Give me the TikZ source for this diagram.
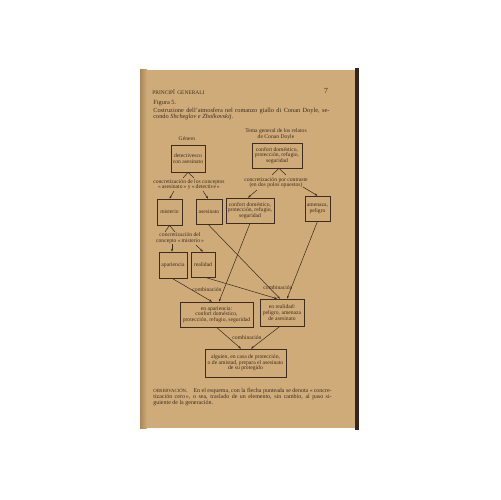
\documentclass[tikz,border=0pt]{standalone}
\usepackage{fontspec}
\setmainfont{Liberation Serif}
\usetikzlibrary{arrows.meta}
\definecolor{pagecol}{RGB}{207,171,121}
\definecolor{pageshade}{RGB}{170,135,90}
\definecolor{ink}{RGB}{62,44,30}
\definecolor{edgecol}{RGB}{50,38,30}
\begin{document}
\begin{tikzpicture}[x=0.02cm,y=-0.02cm,
  every node/.style={text=ink,font=\fontsize{3.2}{3.2}\selectfont,inner sep=0pt},
  box/.style={draw=ink,line width=0.35pt,align=center},
  lbl/.style={align=center},
  link/.style={draw=ink,line width=0.3pt},
  arr/.style={link,-{Stealth[length=1.7pt,width=1.3pt]}},
  bodytext/.style={anchor=west,font=\fontsize{3.6}{4}\selectfont},
  notetext/.style={anchor=west,font=\fontsize{3.4}{3.8}\selectfont}]
\useasboundingbox (0,0) rectangle (500,500);
\fill[white] (0,0) rectangle (500,500);
% page
\fill[pagecol] (140,70) rectangle (356,428);
\shade[left color=pageshade,right color=pagecol] (140,70) rectangle (147,428);
\fill[edgecol] (355,68) rectangle (359,430);

% header and caption
\node[bodytext,font=\fontsize{3.1}{4}\selectfont] (hdr) at (152,92) {PRINCIPÎ\, GENERALI};
\node[font=\fontsize{4.4}{5}\selectfont] (pg) at (326,91) {7};
\node[bodytext] (fig) at (153,103) {Figura 5.};
\node[bodytext] (cap1) at (153,111) {\makebox[100.3pt][s]{Costruzione dell'atmosfera nel romanzo giallo di Conan Doyle, se-}};
\node[bodytext] (cap2) at (153,117) {condo \textit{Shcheglov e Zholkovskij}.};

% diagram nodes
\node[lbl] (gen) at (187,139) {Género};
\node[box,minimum width=0.68cm,minimum height=0.54cm] (detect) at (188,158.5) {detectivesco\\con asesinato};
\node[lbl] (tema) at (276,134) {Tema general de los relatos\\de Conan Doyle};
\node[box,minimum width=1.00cm,minimum height=0.50cm] (conf1) at (277,155.5) {confort doméstico,\\protección, refugio,\\seguridad};

\node[lbl] (lab1) at (189,184.5) {concretización de los conceptos\\«\,asesinato\,» y «\,detective\,»};
\node[lbl] (lab2) at (276,182.5) {concretización por contraste\\(en dos polos opuestos)};

\node[box,minimum width=0.50cm,minimum height=0.52cm] (mist) at (169.5,212) {misterio};
\node[box,minimum width=0.52cm,minimum height=0.50cm] (ases) at (209,211.5) {asesinato};
\node[box,minimum width=0.96cm,minimum height=0.50cm] (conf2) at (250,210.5) {confort doméstico,\\protección, refugio,\\seguridad};
\node[box,minimum width=0.50cm,minimum height=0.50cm] (amen) at (317.5,208.5) {amenaza,\\peligro};

\node[lbl] (lab3) at (180,238) {concretización del\\concepto «\,misterio\,»};

\node[box,minimum width=0.56cm,minimum height=0.52cm] (apar) at (173,265) {apariencia};
\node[box,minimum width=0.48cm,minimum height=0.50cm] (real) at (203,264.5) {realidad};

\node[lbl] (comb1) at (207,290) {combinación};
\node[lbl] (comb2) at (278,288) {combinación};

\node[box,minimum width=1.46cm,minimum height=0.50cm] (enap) at (216.5,314.5) {en apariencia:\\confort doméstico,\\protección, refugio, seguridad};
\node[box,minimum width=0.88cm,minimum height=0.54cm] (enre) at (282,312.5) {en realidad:\\peligro, amenaza\\de asesinato};

\node[lbl] (comb3) at (247,337.5) {combinación};

\node[box,minimum width=1.62cm,minimum height=0.56cm] (final) at (245.5,363) {alguien, en casa de protección,\\o de amistad, prepara el asesinato\\de su protegido};

% carets (concretization)
\draw[link] ([shift={(-6,-6.5)}]lab1.center) -- (detect.south) -- ([shift={(5,-6.5)}]lab1.center);
\draw[link] ([shift={(-4,-7.5)}]lab2.center) -- ([xshift=0.04cm]conf1.south) -- ([shift={(10,-7.5)}]lab2.center);
\draw[link] ([shift={(-15,-6)}]lab3.center) -- (mist.south) -- ([shift={(-5,-6)}]lab3.center);

% arrows from labels
\draw[arr] ([shift={(-15,6.5)}]lab1.center) -- (mist.north);
\draw[arr] ([shift={(14,6.5)}]lab1.center) -- ([xshift=-0.02cm]ases.north);
\draw[arr] ([shift={(-19,7.5)}]lab2.center) -- ([xshift=-0.04cm]conf2.north);
\draw[arr] ([shift={(27,4.5)}]lab2.center) -- (amen.north);
\draw[arr] ([shift={(-8,6)}]lab3.center) -- ([xshift=-0.02cm]apar.north);
\draw[arr] ([shift={(16,7)}]lab3.center) -- (real.north);

% long connectors
\draw[arr] ([xshift=-0.02cm]ases.south) -- ([xshift=-0.04cm]enre.north);
\draw[arr] (conf2.south) -- ([xshift=0.05cm]enap.north);
\draw[arr] (amen.south) -- ([xshift=0.10cm]enre.north);
\draw[arr] ([xshift=-0.02cm]apar.south) -- ([xshift=-0.09cm]enap.north);
\draw[arr] ([xshift=0.04cm]real.south) -- ([xshift=-0.10cm]enre.north);
\draw[arr] (enap.south) -- ([xshift=-0.09cm]final.north);
\draw[arr] ([xshift=-0.04cm]enre.south) -- ([xshift=0.11cm]final.north);

% note
\node[notetext] (note1) at (153,391) {\makebox[101.5pt][s]{{\fontsize{2.7}{3}\selectfont OBSERVACIÓN}.\quad En el esquema, con la flecha punteada se denota «\,concre-}};
\node[notetext] (note2) at (153,397) {\makebox[101.5pt][s]{tización cero\,», o sea, traslado de un elemento, sin cambio, al paso si-}};
\node[notetext] (note3) at (153,403) {guiente de la generación.};
\end{tikzpicture}
\end{document}
